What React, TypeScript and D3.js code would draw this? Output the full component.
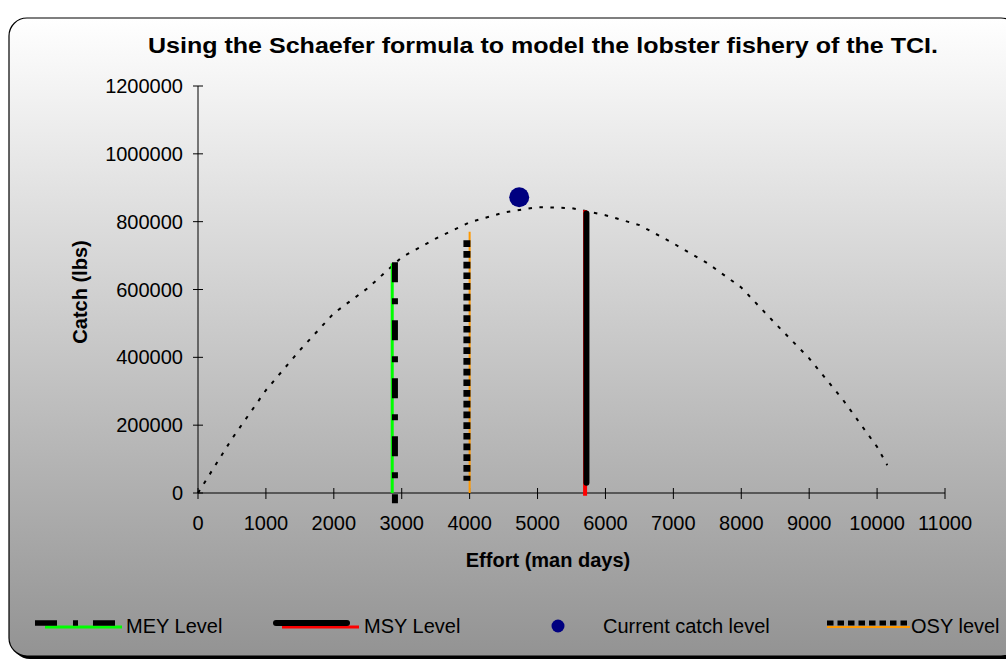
import React from 'react';
import * as d3 from 'd3';

// Schaefer yield curve
const effort = [0, 500, 1000, 1500, 2000, 2500, 3000, 3500, 4000, 4500, 5000, 5500, 6000, 6500, 7000, 7500, 8000, 8500, 9000, 9500, 10000, 10150];
const catchLbs = [0, 160000, 303000, 421000, 530000, 604000, 695000, 750000, 798000, 827000, 843000, 840000, 819000, 790000, 736000, 678000, 606000, 500000, 397000, 274000, 136000, 82000];

const xTicks = [0, 1000, 2000, 3000, 4000, 5000, 6000, 7000, 8000, 9000, 10000, 11000];
const yTicks = [0, 200000, 400000, 600000, 800000, 1000000, 1200000];

// vertical level lines: [effort, catch bottom, catch top]
const meyGreen = [2860, 0, 677000];
const meyBlack = [2900, -30000, 680000];
const osyOrange = [4000, 0, 770000];
const osyBlack = [3960, 36000, 745000];
const msyRed = [5700, -8000, 834000];
const msyBlack = [5720, 30000, 824000];

const currentCatch = [4730, 872000];

const font = 'Liberation Sans, Arial, sans-serif';

export default function App() {
  const W = 1006;
  const H = 663;
  const x = d3.scaleLinear().domain([0, 11000]).range([198, 945]);
  const y = d3.scaleLinear().domain([0, 1200000]).range([493, 86]);

  const curve = d3
    .line<number>()
    .x((d, i) => x(effort[i]))
    .y(d => y(d))(catchLbs);

  const vline = (v: number[]) => `M${x(v[0])},${y(v[2])}L${x(v[0])},${y(v[1])}`;

  return (
    <svg width={W} height={H} style={{ position: 'absolute', left: 0, top: 0 }} fontFamily={font}>
      <defs>
        <linearGradient id="bg" x1="0" y1="0" x2="0" y2="1">
          <stop offset="0" stopColor="#ffffff" />
          <stop offset="1" stopColor="#939393" />
        </linearGradient>
      </defs>
      <rect x={0} y={0} width={W} height={H} fill="#ffffff" />
      <rect x={12} y={21} width={1010} height={638} rx={18} fill="#000" />
      <rect x={9} y={18} width={1010} height={638} rx={18} fill="url(#bg)" stroke="#000" strokeWidth={1.2} />

      <text x={543} y={53} textAnchor="middle" fontSize={22} fontWeight="bold" textLength={790} lengthAdjust="spacingAndGlyphs">
        Using the Schaefer formula to model the lobster fishery of the TCI.
      </text>

      {/* axes */}
      <line x1={x(0)} x2={x(0)} y1={y(1200000)} y2={y(0)} stroke="#000" />
      <line x1={x(0)} x2={x(11000)} y1={y(0)} y2={y(0)} stroke="#000" />
      {yTicks.map(t => (
        <g key={t}>
          <line x1={x(0) - 5} x2={x(0) + 5} y1={y(t)} y2={y(t)} stroke="#000" />
          <text x={183} y={y(t)} dy="0.35em" textAnchor="end" fontSize={20}>
            {t}
          </text>
        </g>
      ))}
      {xTicks.map(t => (
        <g key={t}>
          <line x1={x(t)} x2={x(t)} y1={y(0) - 5} y2={y(0) + 6} stroke="#000" />
          <text x={x(t)} y={523} dy="0.35em" textAnchor="middle" fontSize={20}>
            {t}
          </text>
        </g>
      ))}
      <text x={548} y={560} dy="0.35em" textAnchor="middle" fontSize={20} fontWeight="bold">
        Effort (man days)
      </text>
      <text transform="translate(80,292) rotate(-90)" dy="0.35em" textAnchor="middle" fontSize={20} fontWeight="bold">
        Catch (lbs)
      </text>

      {/* yield curve */}
      <path d={curve || ''} fill="none" stroke="#000" strokeWidth={2} strokeDasharray="3.5,7.5" />

      {/* level lines */}
      <path d={vline(meyGreen)} stroke="#00ff00" strokeWidth={3} />
      <path d={vline(meyBlack)} stroke="#000" strokeWidth={6} strokeDasharray="20,16,6,16" />
      <path d={vline(osyOrange)} stroke="#ff9900" strokeWidth={2} />
      <path d={vline(osyBlack)} stroke="#000" strokeWidth={7} strokeDasharray="6.7,4" />
      <path d={vline(msyRed)} stroke="#ff0000" strokeWidth={4} />
      <path d={vline(msyBlack)} stroke="#000" strokeWidth={6} strokeLinecap="round" />

      <circle cx={x(currentCatch[0])} cy={y(currentCatch[1])} r={10} fill="#000080" />

      {/* legend */}
      <g fontSize={20}>
        <line x1={45} x2={122} y1={627} y2={627} stroke="#00ff00" strokeWidth={3} />
        <line x1={35} x2={116} y1={623} y2={623} stroke="#000" strokeWidth={5.5} strokeDasharray="22,16,5,15" />
        <text x={126} y={626} dy="0.35em">MEY Level</text>

        <line x1={282} x2={359} y1={627} y2={627} stroke="#ff0000" strokeWidth={3} />
        <line x1={276} x2={347} y1={623} y2={623} stroke="#000" strokeWidth={6} strokeLinecap="round" />
        <text x={364} y={626} dy="0.35em">MSY Level</text>

        <circle cx={558} cy={626} r={6.5} fill="#000080" />
        <text x={603} y={626} dy="0.35em">Current catch level</text>

        <line x1={827} x2={910} y1={627} y2={627} stroke="#ff9900" strokeWidth={2} />
        <line x1={827} x2={910} y1={623} y2={623} stroke="#000" strokeWidth={5} strokeDasharray="6.5,4" />
        <text x={911} y={626} dy="0.35em">OSY level</text>
      </g>
    </svg>
  );
}
